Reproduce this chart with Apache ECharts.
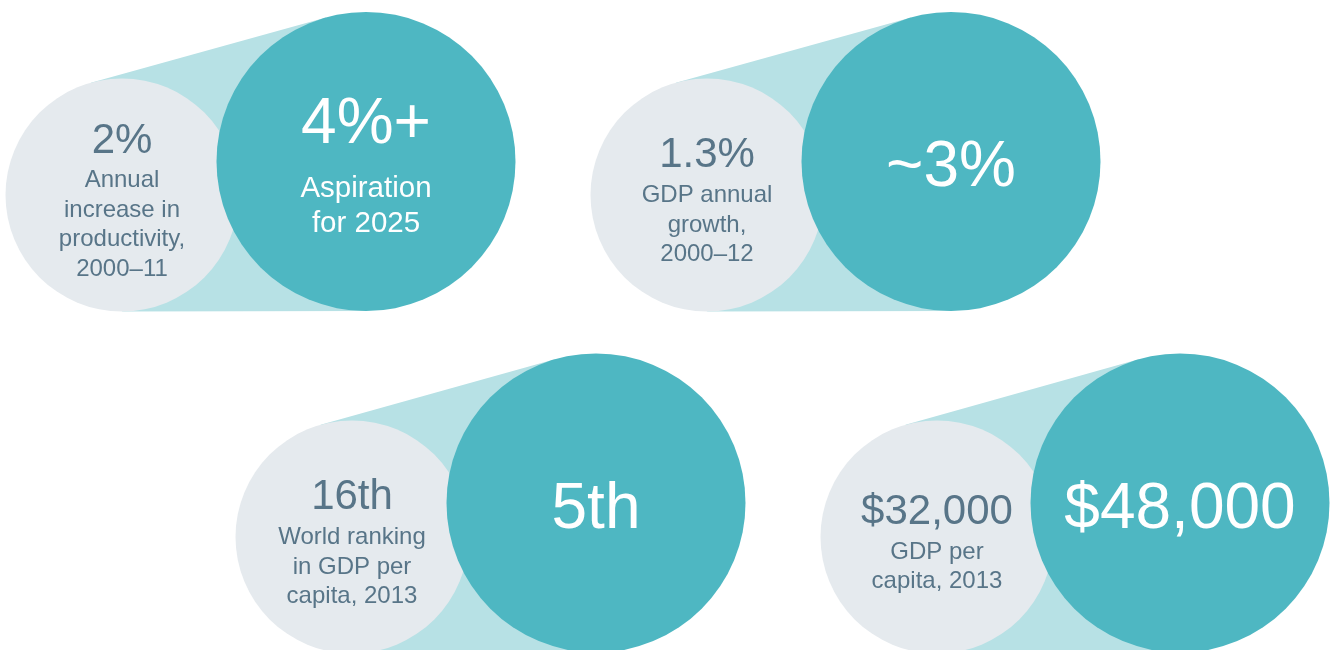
<!DOCTYPE html>
<html>
<head>
<meta charset="utf-8">
<script src="https://cdn.jsdelivr.net/npm/echarts@6/dist/echarts.min.js"></script>
<style>
  html, body { margin: 0; padding: 0; background: #ffffff; }
  #chart { width: 1336px; height: 650px; }
</style>
</head>
<body>
<div id="chart"></div>
<script>
// ---- content (text values) ----
const smallValues = ['2%', '1.3%', '16th', '$32,000'];
const smallCaptions = [
  ['Annual', 'increase in', 'productivity,', '2000–11'],
  ['GDP annual', 'growth,', '2000–12'],
  ['World ranking', 'in GDP per', 'capita, 2013'],
  ['GDP per', 'capita, 2013']
];
const largeValues = ['4%+', '~3%', '5th', '$48,000'];
const largeCaptions = [
  ['Aspiration', 'for 2025'],
  [],
  [],
  []
];

// ---- layout (positions in canvas units) ----
const smallCenterX = [122, 707, 352, 937];
const smallCenterY = [195, 195, 537, 537];
const largeCenterX = [366, 951, 596, 1180];
const largeCenterY = [161.5, 161.5, 503, 503];
const SMALL_R = 116.5;
const LARGE_R = 149.5;

// ---- styles ----
const COLOR_LARGE = '#4eb7c2';
const COLOR_LINK = '#b7e1e5';
const COLOR_SMALL = '#e5eaee';
const COLOR_DARK = '#587588';
const FONT = '"Liberation Sans", Arial, sans-serif';

const data = smallValues.map((_, i) => [smallCenterX[i], smallCenterY[i], largeCenterX[i], largeCenterY[i]]);

function textBlock(cx, cy, value, captions, numSize, capSize, gap, spacing, color) {
  const baselines = [0];
  captions.forEach((c, k) => baselines.push(k === 0 ? gap : baselines[baselines.length - 1] + spacing));
  const top = -0.716 * numSize;
  const bottom = baselines[baselines.length - 1];
  const shift = cy + 6.5 - (top + bottom) / 2;
  const els = [];
  const texts = [value].concat(captions);
  texts.forEach((t, k) => {
    const f = k === 0 ? numSize : capSize;
    els.push({
      type: 'text',
      silent: true,
      style: {
        text: t,
        x: cx,
        y: shift + baselines[k] - 0.3465 * f,
        fill: color,
        fontSize: f,
        fontFamily: FONT,
        align: 'center',
        verticalAlign: 'middle'
      }
    });
  });
  return els;
}

function renderItem(params, api) {
  const i = params.dataIndex;
  const p1 = api.coord([api.value(0), api.value(1)]);
  const p2 = api.coord([api.value(2), api.value(3)]);
  const r1 = api.size([SMALL_R, 0])[0];
  const r2 = api.size([LARGE_R, 0])[0];
  const dx = p2[0] - p1[0], dy = p2[1] - p1[1];
  const d = Math.sqrt(dx * dx + dy * dy);
  const ux = dx / d, uy = dy / d;
  const cosT = (r1 - r2) / d;
  const sinT = Math.sqrt(1 - cosT * cosT);
  const pts = [];
  [1, -1].forEach(s => {
    const vx = ux * cosT - s * uy * sinT;
    const vy = s * ux * sinT + uy * cosT;
    pts.push([[p1[0] + r1 * vx, p1[1] + r1 * vy], [p2[0] + r2 * vx, p2[1] + r2 * vy]]);
  });
  const poly = [pts[0][0], pts[0][1], pts[1][1], pts[1][0]];
  const children = [
    { type: 'polygon', shape: { points: poly }, style: { fill: COLOR_LINK } },
    { type: 'circle', shape: { cx: p1[0], cy: p1[1], r: r1 }, style: { fill: COLOR_SMALL } },
    { type: 'circle', shape: { cx: p2[0], cy: p2[1], r: r2 }, style: { fill: COLOR_LARGE } }
  ];
  const smallTxt = textBlock(p1[0], p1[1], smallValues[i], smallCaptions[i], 42, 24, 33.5, 29.5, COLOR_DARK);
  const largeTxt = textBlock(p2[0], p2[1], largeValues[i], largeCaptions[i], 64, 29.5, 51, 35, '#ffffff');
  return { type: 'group', children: children.concat(smallTxt, largeTxt) };
}

const chart = echarts.init(document.getElementById('chart'), null, { renderer: 'canvas' });
chart.setOption({
  animation: false,
  backgroundColor: '#ffffff',
  grid: { left: 0, right: 0, top: 0, bottom: 0 },
  xAxis: { type: 'value', min: 0, max: 1336, show: false },
  yAxis: { type: 'value', min: 0, max: 650, inverse: true, show: false },
  series: [{
    type: 'custom',
    renderItem: renderItem,
    clip: false,
    encode: { x: [0, 2], y: [1, 3] },
    data: data
  }]
});
</script>
</body>
</html>
